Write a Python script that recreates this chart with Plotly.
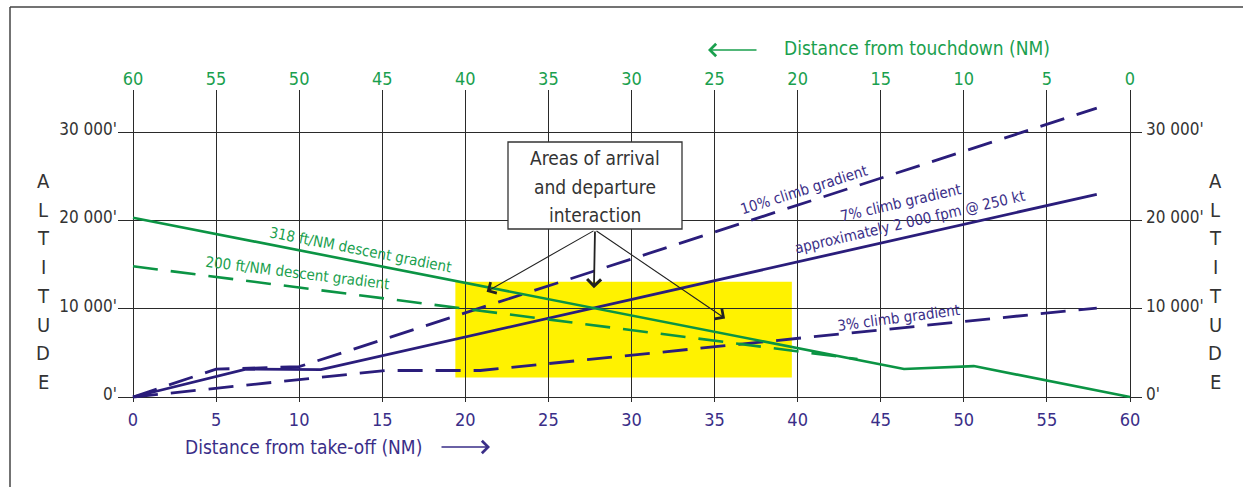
import plotly.graph_objects as go

# ---------------- data ----------------
# descent profiles (distance from touchdown, NM) -> altitude (ft)
desc318_td = [60, 13.6, 9.4, 0]
desc318_alt = [20300, 3170, 3500, 0]
desc200_td = [60, 16.4]
desc200_alt = [14800, 4300]

# climb profiles (distance from take-off, NM) -> altitude (ft)
climb10_to = [0, 5, 10, 58]
climb10_alt = [0, 3150, 3430, 32700]
climb7_to = [0, 6.8, 11.3, 58]
climb7_alt = [0, 3150, 3100, 22950]
climb3_to = [0, 15.2, 20.9, 58]
climb3_alt = [0, 3000, 3000, 10070]

# interaction zone (distance from take-off, altitude)
zone_to = [19.4, 39.65]
zone_alt = [2200, 13050]

x_ticks = [0, 5, 10, 15, 20, 25, 30, 35, 40, 45, 50, 55, 60]
alt_ticks = [0, 10000, 20000, 30000]
alt_ticktext = ["0'", "10 000'", "20 000'", "30 000'"]

box_lines = ["Areas of arrival", "and departure", "interaction"]

# ---------------- style / layout ----------------
W, H = 1243, 487
PL, PR, PT, PB = 118, 1142, 90, 402          # plot area in pixels
X0PX, X60PX = 133, 1130
Y0PX, Y30PX = 397, 132
pxnm = (X60PX - X0PX) / 60.0
pxft = (Y0PX - Y30PX) / 30000.0
xr = [-(X0PX - PL) / pxnm, (PR - X0PX) / pxnm]
yr = [-(PB - Y0PX) / pxft, (Y0PX - PT) / pxft]

GREEN = "#0b9444"
GREEN_T = "#1aa04e"
NAVY = "#2a1d7b"
NAVY_T = "#3a2e88"
GRID = "#2a2a2a"
TXT = "#333333"
FONT = "DejaVu Sans Condensed, Liberation Sans Narrow, DejaVu Sans, sans-serif"
DASH = "25px,13px"


def px_x(p):
    return (p - PL) / (PR - PL)


def px_y(p):
    return (PB - p) / (PB - PT)


def dx(p):
    return (p - X0PX) / pxnm


def dy(p):
    return (Y0PX - p) / pxft


fig = go.Figure()

fig.add_trace(go.Scatter(x=desc318_td, y=desc318_alt, xaxis="x2", yaxis="y", mode="lines",
                         line=dict(color=GREEN, width=2.6), hoverinfo="skip"))
fig.add_trace(go.Scatter(x=desc200_td, y=desc200_alt, xaxis="x2", yaxis="y", mode="lines",
                         line=dict(color=GREEN, width=2.6, dash=DASH), hoverinfo="skip"))
fig.add_trace(go.Scatter(x=climb10_to, y=climb10_alt, mode="lines",
                         line=dict(color=NAVY, width=2.8, dash=DASH), hoverinfo="skip"))
fig.add_trace(go.Scatter(x=climb7_to, y=climb7_alt, mode="lines",
                         line=dict(color=NAVY, width=2.8), hoverinfo="skip"))
fig.add_trace(go.Scatter(x=climb3_to, y=climb3_alt, mode="lines",
                         line=dict(color=NAVY, width=2.8, dash=DASH), hoverinfo="skip"))
fig.add_trace(go.Scatter(x=[None], y=[None], xaxis="x", yaxis="y2", mode="lines", hoverinfo="skip"))

fig.add_shape(type="rect", xref="x", yref="y", x0=zone_to[0], x1=zone_to[1],
              y0=zone_alt[0], y1=zone_alt[1], fillcolor="#fff200", line=dict(width=0), layer="below")

# annotation box
fig.add_shape(type="rect", xref="x", yref="y", x0=dx(508), x1=dx(682), y0=dy(229), y1=dy(142),
              fillcolor="white", line=dict(color="#333", width=1.3), layer="above")

# outer frame (left and top edges)
fig.add_shape(type="line", xref="paper", yref="paper", x0=px_x(10), x1=px_x(10), y0=px_y(7), y1=px_y(495),
              line=dict(color="#444", width=1.5))
fig.add_shape(type="line", xref="paper", yref="paper", x0=px_x(10), x1=px_x(1250), y0=px_y(7), y1=px_y(7),
              line=dict(color="#444", width=1.5))

ann = []
# gradient labels
labels = [
    ("318 ft/NM descent gradient", 13.72, 16640, 11, GREEN_T),
    ("200 ft/NM descent gradient", 9.87, 14040, 7, GREEN_T),
    ("10% climb gradient", 40.38, 23430, -17.5, NAVY_T),
    ("7% climb gradient", 46.16, 21960, -13, NAVY_T),
    ("approximately 2 000 fpm @ 250 kt", 46.76, 19810, -13, NAVY_T),
    ("3% climb gradient", 46.04, 8940, -7.5, NAVY_T),
]
for t, x, y, a, c in labels:
    ann.append(dict(text=t, x=x, y=y, xref="x", yref="y", showarrow=False, textangle=a,
                    xanchor="center", yanchor="middle",
                    font=dict(family=FONT, size=15, color=c)))

# interaction box text
for i, t in enumerate(box_lines):
    ann.append(dict(text=t, x=dx(595), y=dy(158 + i * 28.5), xref="x", yref="y", showarrow=False,
                    xanchor="center", yanchor="middle", font=dict(family=FONT, size=19, color=TXT)))
tail = (dx(595), dy(230))
for hx, hy, w in [(21.28, 11920, 1.1), (27.74, 12300, 1.8), (35.63, 8900, 1.1)]:
    ann.append(dict(text="", x=hx, y=hy, xref="x", yref="y", ax=tail[0], ay=tail[1], axref="x", ayref="y",
                    showarrow=True, arrowhead=4, arrowsize=2.2 if w < 1.5 else 1.5, arrowwidth=w,
                    arrowcolor="#222"))

# ALTITUDE letters
for i, ch in enumerate("ALTITUDE"):
    yy = 181 + i * 28.7
    for xx in (43, 1215):
        ann.append(dict(text=ch, x=px_x(xx), y=px_y(yy), xref="paper", yref="paper", showarrow=False,
                        xanchor="center", yanchor="middle",
                        font=dict(family=FONT, size=20, color=TXT)))

# axis titles
ann.append(dict(text="Distance from touchdown (NM)", x=px_x(917), y=px_y(48), xref="paper", yref="paper",
                xanchor="center", yanchor="middle",
                showarrow=False, font=dict(family=FONT, size=19, color=GREEN_T)))
ann.append(dict(text="", x=px_x(708), y=px_y(50), xref="paper", yref="paper", ax=50, ay=0,
                showarrow=True, arrowhead=4, arrowsize=1.6, arrowwidth=1.5, arrowcolor=GREEN_T))
ann.append(dict(text="Distance from take-off (NM)", x=px_x(303), y=px_y(447), xref="paper", yref="paper",
                xanchor="center", yanchor="middle",
                showarrow=False, font=dict(family=FONT, size=19, color=NAVY_T)))
ann.append(dict(text="", x=px_x(490), y=px_y(447), xref="paper", yref="paper", ax=-50, ay=0,
                showarrow=True, arrowhead=4, arrowsize=1.6, arrowwidth=1.5, arrowcolor=NAVY_T))

grid = dict(showgrid=True, gridcolor=GRID, gridwidth=1.2, zeroline=False, showline=False, fixedrange=True)

fig.update_layout(
    width=W, height=H, autosize=False,
    margin=dict(l=PL, r=W - PR, t=PT, b=H - PB, pad=0),
    paper_bgcolor="white", plot_bgcolor="white", showlegend=False,
    annotations=ann,
    xaxis=dict(range=xr, tickvals=x_ticks, ticks="", ticklabelstandoff=5,
               tickfont=dict(family=FONT, size=18, color=NAVY_T), **grid),
    xaxis2=dict(range=[60 - xr[0], 60 - xr[1]], overlaying="x", side="top", tickvals=x_ticks, ticks="",
                ticklabelstandoff=0, showgrid=False, zeroline=False, fixedrange=True,
                tickfont=dict(family=FONT, size=18, color=GREEN_T)),
    yaxis=dict(range=yr, tickvals=alt_ticks, ticktext=alt_ticktext, ticks="", ticklabelstandoff=0,
               ticklabelshift=-3, tickfont=dict(family=FONT, size=17, color=TXT), **grid),
    yaxis2=dict(range=yr, overlaying="y", side="right", tickvals=alt_ticks, ticktext=alt_ticktext, ticks="",
                ticklabelstandoff=3, ticklabelshift=-3, showgrid=False, zeroline=False, fixedrange=True,
                tickfont=dict(family=FONT, size=17, color=TXT)),
)

fig.write_html("out.html", config={"displayModeBar": False},
               post_script="document.body.style.margin='0px';")
